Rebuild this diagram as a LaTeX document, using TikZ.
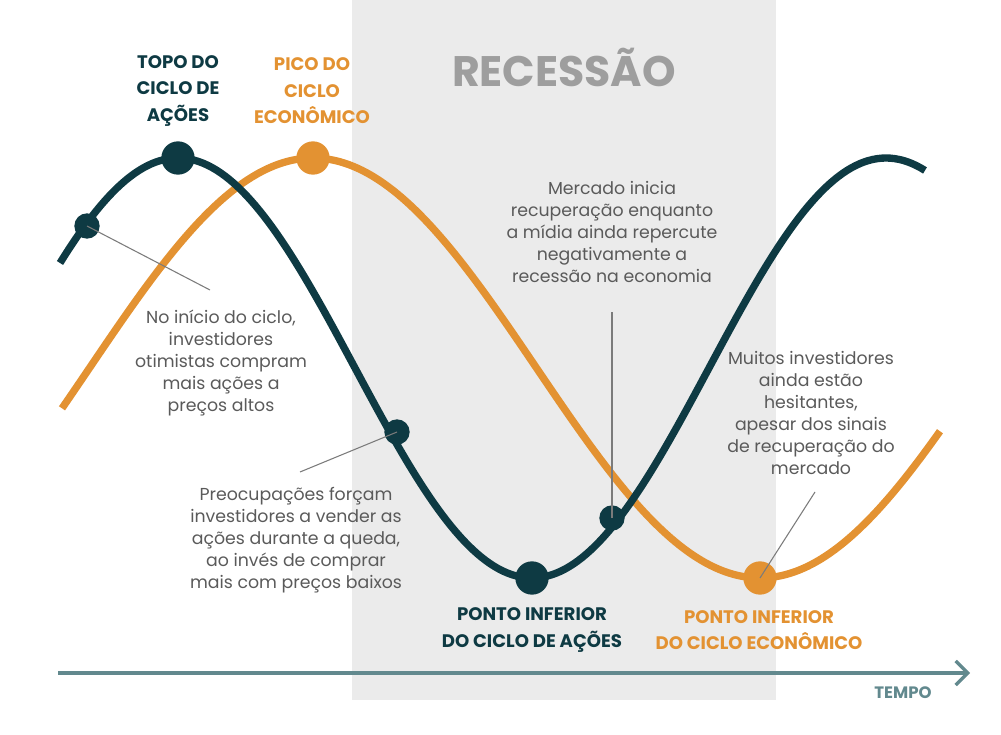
\documentclass[tikz,border=0pt]{standalone}
\usepackage{fontspec}
\setmainfont{Poppins}
\usetikzlibrary{arrows.meta}
\definecolor{dk}{HTML}{0E3A43}
\definecolor{og}{HTML}{E39232}
\definecolor{tx}{HTML}{5A5A5A}
\definecolor{ax}{HTML}{62898E}
\definecolor{bg}{HTML}{EBEBEB}
\tikzset{
 lbl/.style={text=tx,align=center,font=\fontsize{13}{16.4}\selectfont},
 ttl/.style={align=center,font=\fontsize{13.6}{19.8}\selectfont\bfseries},
 lead/.style={draw=tx!80,line width=0.8pt},
 sdot/.style={circle,fill=dk,inner sep=0pt,minimum size=19pt},
 bdot/.style={circle,inner sep=0pt,minimum size=25pt},
}
\begin{document}
\begin{tikzpicture}[x=0.75pt,y=-0.75pt]
\useasboundingbox (0,0) rectangle (1001,735);
\fill[bg] (352,0) rectangle (776,700);
\node[font=\fontsize{32}{36}\selectfont\bfseries,text=black!38] (rec) at (564,67) {RECESSÃO};
\draw[og,line width=5.5pt] plot[domain=62:940,samples=200] (\x,{368-210*cos(0.40268*(\x-313))});
\draw[dk,line width=5.5pt] plot[domain=60:925,samples=200] (\x,{368-210*cos(0.50847*(\x-178))});
\node[sdot] (d1) at (87,226) {};
\node[bdot,fill=dk] (d2) at (178,158) {};
\node[sdot] (d3) at (397,432) {};
\node[bdot,fill=dk] (d4) at (532,578) {};
\node[sdot] (d5) at (612,518) {};
\node[bdot,fill=og] (o1) at (313,158) {};
\node[bdot,fill=og] (o2) at (760,578) {};
\node[ttl,text=dk] (t1) at (178,91) {TOPO DO\\CICLO DE\\AÇÕES};
\node[ttl,text=og] (t2) at (312,91) {PICO DO\\CICLO\\ECONÔMICO};
\node[ttl,text=dk] (t3) at (532,630) {PONTO INFERIOR\\DO CICLO DE AÇÕES};
\node[ttl,text=og] (t4) at (759,630) {PONTO INFERIOR\\DO CICLO ECONÔMICO};
\node[lbl] (l1) at (221,363) {No início do ciclo,\\investidores\\otimistas compram\\mais ações a\\preços altos};
\node[lbl] (l2) at (296,540) {Preocupações forçam\\investidores a vender as\\ações durante a queda,\\ao invés de comprar\\mais com preços baixos};
\node[lbl] (l3) at (612,232) {Mercado inicia\\recuperação enquanto\\a mídia ainda repercute\\negativamente a\\recessão na economia};
\node[lbl] (l4) at (811,413) {Muitos investidores\\ainda estão\\hesitantes,\\apesar dos sinais\\de recuperação do\\mercado};
\coordinate (c1) at (210,290);
\coordinate (c2) at (300,472);
\coordinate (c3) at (612,312);
\coordinate (c4) at (815,492);
\draw[lead] (d1.center) -- (c1);
\draw[lead] (d3.center) -- (c2);
\draw[lead] (d5.center) -- (c3);
\draw[lead] (o2.center) -- (c4);
\coordinate (a0) at (58,673);
\coordinate (a1) at (970,673);
\draw[ax,line width=2.5pt,-{Straight Barb[length=9pt,width=18pt,line width=2.5pt]}] (a0) -- (a1);
\node[font=\fontsize{12.4}{14}\selectfont\bfseries,text=ax] (tp) at (903,693) {TEMPO};
\end{tikzpicture}
\end{document}
